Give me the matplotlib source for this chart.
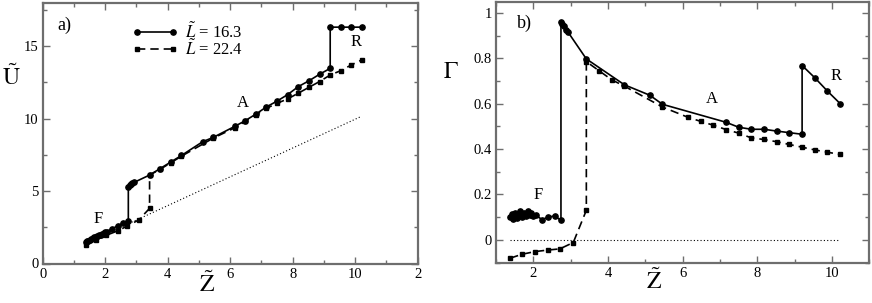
import numpy as np
import matplotlib
matplotlib.use('Agg')
import matplotlib.pyplot as plt
from matplotlib.ticker import MultipleLocator

plt.rcParams['font.family'] = ['Liberation Serif', 'DejaVu Serif']
plt.rcParams['mathtext.fontset'] = 'stix'

# --- data ---
# L = 16.3 (solid, circles): F branch, jump, A branch, jump, R branch
z_solid = [1.38, 1.42, 1.46, 1.50, 1.55, 1.60, 1.65, 1.70, 1.75, 1.80, 1.85, 1.90,
           1.95, 2.00, 2.06, 2.23, 2.40, 2.57, 2.74,
           2.74, 2.78, 2.82, 2.87, 2.93, 3.42, 3.76, 4.10, 4.44, 5.12, 5.46, 6.14,
           6.48, 6.82, 7.16, 7.50, 7.84, 8.18, 8.52, 8.86, 9.20,
           9.20, 9.54, 9.88, 10.22]
u_solid = [1.45, 1.55, 1.58, 1.65, 1.70, 1.75, 1.80, 1.85, 1.90, 1.95, 2.00, 2.05,
           2.10, 2.15, 2.20, 2.40, 2.60, 2.78, 2.95,
           5.30, 5.38, 5.45, 5.52, 5.60, 6.10, 6.55, 7.00, 7.45, 8.40, 8.70, 9.45,
           9.85, 10.30, 10.80, 11.20, 11.65, 12.20, 12.60, 13.05, 13.46,
           16.30, 16.30, 16.30, 16.30]
z_solid_g = [1.38, 1.42, 1.46, 1.50, 1.55, 1.60, 1.65, 1.70, 1.75, 1.80, 1.85, 1.90,
             1.95, 2.00, 2.06, 2.23, 2.40, 2.57, 2.74,
             2.74, 2.78, 2.82, 2.87, 2.93, 3.42, 4.44, 5.12, 5.46,
             7.16, 7.50, 7.84, 8.18, 8.52, 8.86, 9.20,
             9.20, 9.54, 9.88, 10.22]
g_solid = [0.100, 0.115, 0.090, 0.120, 0.095, 0.110, 0.125, 0.100, 0.118, 0.105, 0.128, 0.110,
           0.120, 0.105, 0.110, 0.089, 0.100, 0.105, 0.086,
           0.960, 0.950, 0.940, 0.925, 0.915, 0.797, 0.683, 0.637, 0.597,
           0.518, 0.496, 0.487, 0.487, 0.479, 0.472, 0.465,
           0.768, 0.714, 0.655, 0.600]

# L = 22.4 (dashed, squares)
z_dash = [1.38, 1.69, 2.04, 2.40, 2.71, 3.07, 3.42,
          3.42, 3.76, 4.10, 4.44, 5.46, 6.14, 6.48, 6.82, 7.16, 7.50, 7.84,
          8.18, 8.52, 8.86, 9.20, 9.54, 9.88, 10.22]
u_dash = [1.27, 1.60, 1.95, 2.25, 2.59, 3.00, 3.80,
          6.10, 6.50, 6.95, 7.40, 8.65, 9.35, 9.80, 10.25, 10.70, 11.05, 11.35,
          11.75, 12.15, 12.55, 13.00, 13.30, 13.70, 14.05]
g_dash = [-0.081, -0.064, -0.052, -0.045, -0.040, -0.012, 0.130,
          0.785, 0.745, 0.705, 0.677, 0.585, 0.540, 0.522, 0.505, 0.486, 0.470, 0.449,
          0.442, 0.432, 0.420, 0.408, 0.396, 0.386, 0.376]

# reference lines
z_ref_a = [2.75, 10.2]
u_ref_a = [2.75, 10.15]
z_ref_b = [1.38, 10.22]
g_ref_b = [0.0, 0.0]

labels = [r'$\tilde{L}$ = 16.3', r'$\tilde{L}$ = 22.4']

xticks_a = [0, 2, 4, 6, 8, 10, 12]
xticklabels_a = ['0', '2', '4', '6', '8', '10', '2']

spine_col = '#6e6e6e'

fig = plt.figure(figsize=(8.72, 3.03), dpi=100)
ax1 = fig.add_axes([42.7 / 872, (303 - 263.5) / 303, 375 / 872, 261 / 303])
ax2 = fig.add_axes([496 / 872, (303 - 262.5) / 303, 373.3 / 872, 261 / 303])

solid_kw = dict(color='black', lw=1.2, marker='o', ms=3.8)
dash_kw = dict(color='black', lw=1.2, ls=(0, (5, 3)), marker='s', ms=3.2)

ax1.plot(z_ref_a, u_ref_a, color='black', lw=0.8, ls=(0, (1, 2)))
ax1.plot(z_dash, u_dash, **dash_kw)
ax1.plot(z_solid, u_solid, **solid_kw)

ax2.plot(z_ref_b, g_ref_b, color='black', lw=0.8, ls=(0, (1, 2)))
ax2.plot(z_dash, g_dash, **dash_kw)
ax2.plot(z_solid_g, g_solid, **solid_kw)

ax1.set_xlim(0, 12)
ax1.set_ylim(0, 18)
ax1.set_xticks(xticks_a)
ax1.set_xticklabels(xticklabels_a)
ax1.xaxis.set_minor_locator(MultipleLocator(1))
ax1.yaxis.set_major_locator(MultipleLocator(5))
ax1.yaxis.set_minor_locator(MultipleLocator(2.5))

ax2.set_xlim(1, 11)
ax2.set_ylim(-0.1, 1.05)
ax2.xaxis.set_major_locator(MultipleLocator(2))
ax2.xaxis.set_minor_locator(MultipleLocator(1))
ax2.set_yticks([0, 0.2, 0.4, 0.6, 0.8, 1.0])
ax2.set_yticklabels(['0', '0.2', '0.4', '0.6', '0.8', '1'])
ax2.yaxis.set_minor_locator(MultipleLocator(0.1))

for ax in (ax1, ax2):
    for s in ax.spines.values():
        s.set_color(spine_col)
        s.set_linewidth(1.6)
    ax.tick_params(which='both', direction='in', top=True, right=True,
                   color=spine_col, width=1.0, labelsize=10.5, pad=3)
    ax.tick_params(which='major', length=5)
    ax.tick_params(which='minor', length=3)

# legend drawn by hand (rows sit close together)
leg_x = [0.251, 0.348]
for row_y, lab, kw in zip([0.886, 0.821], labels, [solid_kw, dash_kw]):
    ax1.plot(leg_x, [row_y, row_y], transform=ax1.transAxes, clip_on=False, **kw)
    ax1.text(0.379, row_y, lab, transform=ax1.transAxes, fontsize=12,
             ha='left', va='center')

# annotations
ax1.text(0.68, 16.4, 'a)', fontsize=13, ha='center', va='center')
ax1.text(1.77, 3.1, 'F', fontsize=12, ha='center', va='center')
ax1.text(6.4, 11.05, 'A', fontsize=12, ha='center', va='center')
ax1.text(10.03, 15.3, 'R', fontsize=12, ha='center', va='center')

ax2.text(1.76, 0.954, 'b)', fontsize=13, ha='center', va='center')
ax2.text(2.12, 0.197, 'F', fontsize=12, ha='center', va='center')
ax2.text(6.79, 0.62, 'A', fontsize=12, ha='center', va='center')
ax2.text(10.11, 0.72, 'R', fontsize=12, ha='center', va='center')

# axis labels
fig.text(11 / 872, 1 - 77 / 303, r'$\tilde{\mathrm{U}}$', fontsize=17, ha='center', va='center')
fig.text(207 / 872, 1 - 284 / 303, r'$\tilde{\mathrm{Z}}$', fontsize=17, ha='center', va='center')
fig.text(451 / 872, 1 - 72 / 303, r'$\Gamma$', fontsize=17, ha='center', va='center')
fig.text(654 / 872, 1 - 281 / 303, r'$\tilde{\mathrm{Z}}$', fontsize=17, ha='center', va='center')

fig.savefig('out.png', dpi=100)
